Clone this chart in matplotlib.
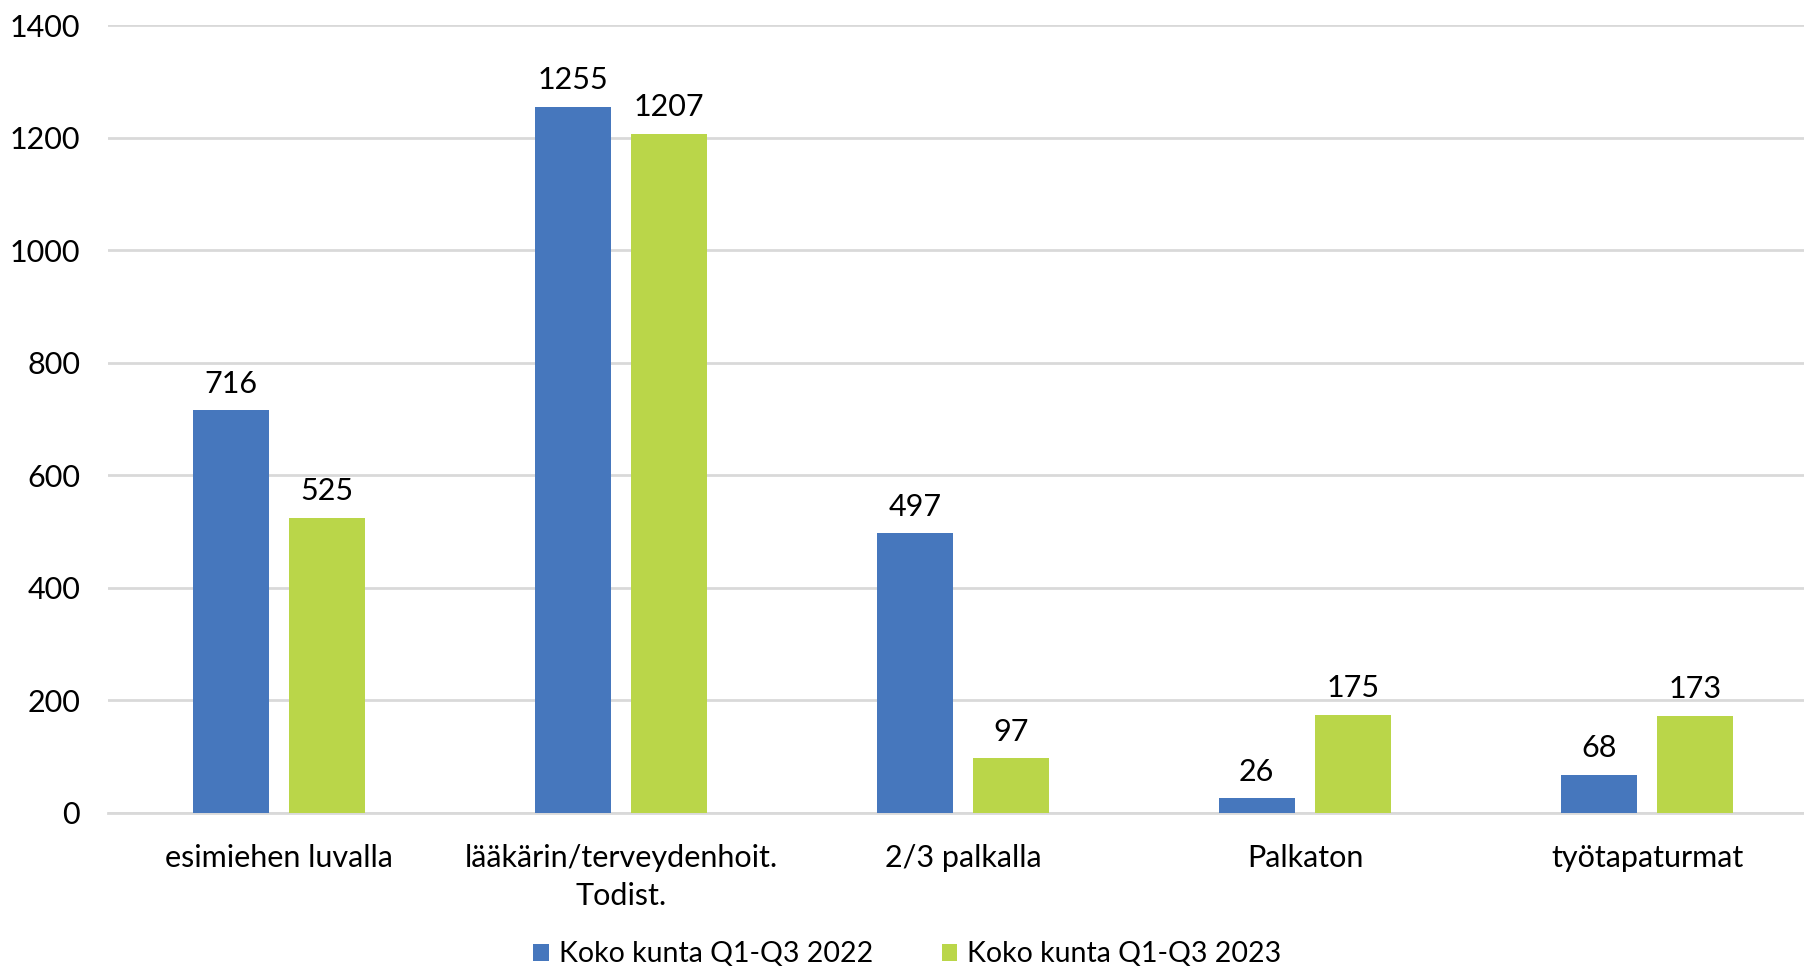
import matplotlib.pyplot as plt
import numpy as np

plt.rcParams['font.family'] = ['Lato', 'DejaVu Sans']

categories = ['esimiehen luvalla', 'lääkärin/terveydenhoit.\nTodist.', '2/3 palkalla', 'Palkaton', 'työtapaturmat']
vals_2022 = [716, 1255, 497, 26, 68]
vals_2023 = [525, 1207, 97, 175, 173]
series_names = ['Koko kunta Q1-Q3 2022', 'Koko kunta Q1-Q3 2023']

blue = '#4677BD'
green = '#BAD649'

fig = plt.figure(figsize=(18.04, 9.69), dpi=100)
ax = fig.add_axes([0.0598, 0.161, 0.948, 0.813])

x = np.arange(len(categories))
w = 0.222
off = 0.141
b1 = ax.bar(x - off, vals_2022, w, color=blue, label=series_names[0], zorder=3)
b2 = ax.bar(x + off, vals_2023, w, color=green, label=series_names[1], zorder=3)

for bars in (b1, b2):
    ax.bar_label(bars, padding=9, fontsize=22, color='black')

ax.set_xlim(-0.5, len(categories) - 0.5)
ax.set_ylim(0, 1400)
ax.set_yticks(range(0, 1401, 200))
ax.set_xticks(x)
ax.set_xticklabels(categories, fontsize=22, linespacing=1.45)
ax.tick_params(axis='y', labelsize=22, length=0, pad=20)
ax.tick_params(axis='x', length=0, pad=22)

ax.grid(axis='y', color='#D9D9D9', linewidth=2, zorder=0)
for s in ['top', 'right', 'left']:
    ax.spines[s].set_visible(False)
ax.spines['bottom'].set_color('#D9D9D9')
ax.spines['bottom'].set_linewidth(2)

fig.legend(handles=[b1, b2], labels=series_names, loc='center', bbox_to_anchor=(0.503, 0.015),
           ncol=2, frameon=False, fontsize=20.5, handlelength=0.55, handleheight=0.55,
           handletextpad=0.35, columnspacing=2.4)

fig.savefig('out.png', dpi=100)
